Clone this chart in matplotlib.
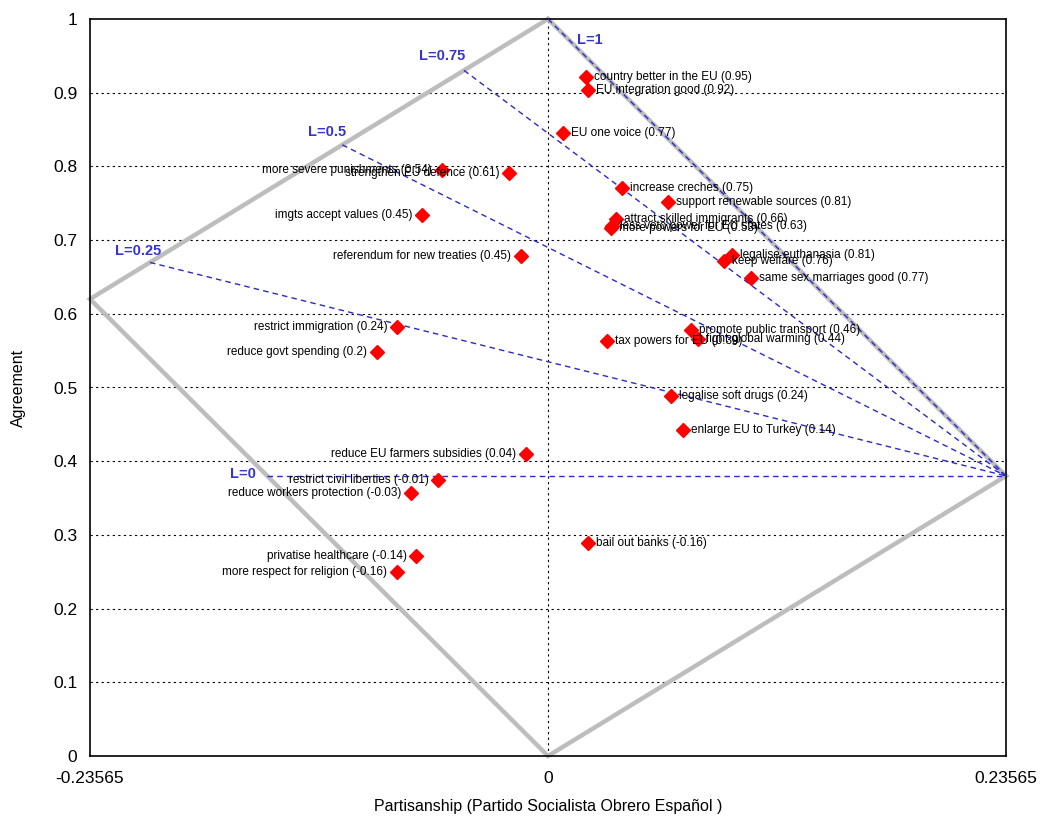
import numpy as np
import matplotlib
matplotlib.use("Agg")
import matplotlib.pyplot as plt

plt.rcParams["font.family"] = ["Liberation Sans", "DejaVu Sans"]

# Axis limits (partisanship range is symmetric)
x_lim = 0.23565

# Issues: partisanship (x), agreement (y) and loyalty score in the label
issues = [
    "country better in the EU", "EU integration good", "EU one voice",
    "increase creches", "support renewable sources", "attract skilled immigrants",
    "more powers for EU", "less veto power for EU states",
    "legalise euthanasia", "keep welfare", "same sex marriages good",
    "promote public transport", "fight global warming", "tax powers for EU",
    "legalise soft drugs", "enlarge EU to Turkey", "bail out banks",
    "reduce EU farmers subsidies", "restrict civil liberties",
    "reduce workers protection", "privatise healthcare",
    "more respect for religion", "restrict immigration", "reduce govt spending",
    "referendum for new treaties", "imgts accept values",
    "more severe punishments", "strengthen EU defence",
]
partisanship = [
    0.0195, 0.0206, 0.0077,
    0.0380, 0.0617, 0.0350,
    0.0324, 0.0330,
    0.0946, 0.0905, 0.1043,
    0.0735, 0.0771, 0.0303,
    0.0632, 0.0694, 0.0206,
    -0.0113, -0.0565,
    -0.0704, -0.0678,
    -0.0776, -0.0776, -0.0879,
    -0.0139, -0.0647,
    -0.0545, -0.0200,
]
agreement = [
    0.921, 0.904, 0.845,
    0.771, 0.752, 0.729,
    0.717, 0.719,
    0.680, 0.672, 0.649,
    0.578, 0.566, 0.563,
    0.488, 0.442, 0.289,
    0.410, 0.3745,
    0.357, 0.271,
    0.250, 0.582, 0.548,
    0.678, 0.734,
    0.795, 0.791,
]
loyalty = [
    0.95, 0.92, 0.77,
    0.75, 0.81, 0.66,
    0.53, 0.63,
    0.81, 0.76, 0.77,
    0.46, 0.44, 0.39,
    0.24, 0.14, -0.16,
    0.04, -0.01,
    -0.03, -0.14,
    -0.16, 0.24, 0.2,
    0.45, 0.45,
    0.54, 0.61,
]

# Diamond-shaped region: right vertex height, left vertex height
right_y = 0.38
left_y = 1 - right_y

# Loyalty iso-lines and their label offsets (points)
l_levels = [0, 0.25, 0.5, 0.75, 1]
l_label_offsets = [(-8, 1.5), (8, 8.5), (3, 9), (1, 10), (21, -15)]

fig = plt.figure(figsize=(10.4, 8.22), dpi=100)
ax = fig.add_axes([90 / 1040, 1 - 756 / 822, 916 / 1040, 737 / 822])
ax.set_xlim(-x_lim, x_lim)
ax.set_ylim(0, 1)

# grid
for yv in np.arange(0.1, 1.0, 0.1):
    ax.axhline(yv, color="black", lw=0.8, ls=(0, (2, 3)), zorder=1)
ax.axvline(0, color="black", lw=0.8, ls=(0, (2, 3)), zorder=1)

# region outline
ax.plot([0, x_lim, 0, -x_lim, 0], [1, right_y, 0, left_y, 1],
        color="#bdbdbd", lw=3.2, solid_joinstyle="miter", zorder=2,
        clip_on=False)

# iso-lines from the right vertex through (0, right_y + L*(1-right_y)),
# running left until they meet the region outline
k_up = (1 - left_y) / x_lim       # upper-left edge: y = 1 + k_up*x
k_lo = -left_y / x_lim            # lower-left edge: y = k_lo*x
for lv, (ox, oy) in zip(l_levels, l_label_offsets):
    y0 = right_y + lv * (1 - right_y)
    slope = (right_y - y0) / x_lim
    xs = (y0 - 1) / (k_up - slope)
    if xs < -x_lim:
        xs = y0 / (k_lo - slope)
    ys = y0 + slope * xs
    ax.plot([xs, x_lim], [ys, right_y], color="#2a2acc", lw=1.0,
            ls=(0, (4, 3)), zorder=3)
    ha = "left" if ox > 10 else "right"
    ax.annotate(f"L={lv:g}", (xs, ys), xytext=(ox, oy),
                textcoords="offset points", ha=ha, va="center",
                fontsize=10.5, color="#3535c8", fontweight="bold", zorder=5)

# issues
ax.plot(partisanship, agreement, ls="none", marker="D", ms=7.5,
        color="#ff0000", mec="#ff0000", zorder=4)
for name, xv, yv, lv in zip(issues, partisanship, agreement, loyalty):
    right = xv >= 0
    ax.annotate(f"{name} ({lv:g})", (xv, yv),
                xytext=(6 if right else -7, 0), textcoords="offset points",
                ha="left" if right else "right", va="center",
                fontsize=8.5, color="black", zorder=5)

yt = np.round(np.arange(0, 1.01, 0.1), 1)
ax.set_yticks(yt)
ax.set_yticklabels([f"{v:g}" for v in yt])
ax.set_xticks([-x_lim, 0, x_lim])
ax.set_xticklabels(["-0.23565", "0", "0.23565"])
ax.tick_params(length=0, labelsize=12.5, pad=9)
ax.tick_params(axis="x", pad=11)
for s in ax.spines.values():
    s.set_linewidth(1.2)

ax.set_xlabel("Partisanship (Partido Socialista Obrero Español )", fontsize=11.5,
              labelpad=9)
ax.set_ylabel("Agreement", fontsize=11.5, labelpad=20)

fig.savefig("out.png", dpi=100)
